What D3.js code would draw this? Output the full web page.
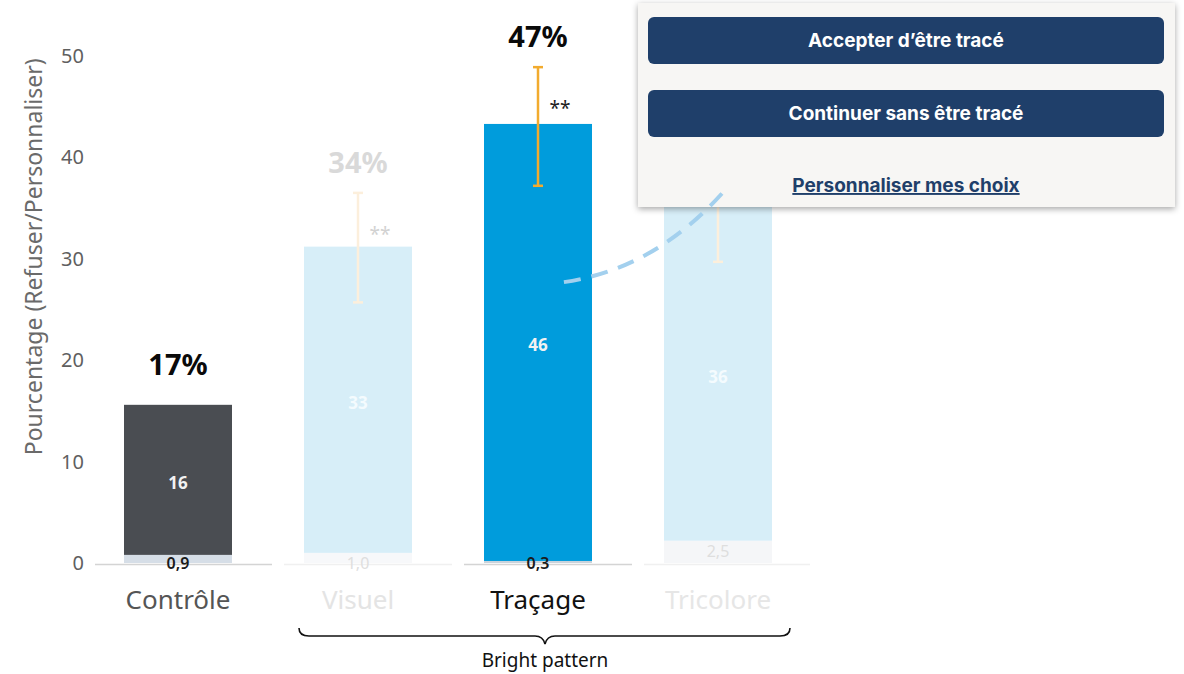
<!DOCTYPE html>
<html>
<head>
<meta charset="utf-8">
<script src="https://cdn.jsdelivr.net/npm/d3@7"></script>
<style>
  body { margin: 0; background: #fff; }
  svg { display: block; }
</style>
</head>
<body>
<svg id="chart" width="1184" height="674"></svg>
<script>
// categories and values
const categories = ["Contrôle", "Visuel", "Traçage", "Tricolore"];
const baseValues = [0.8, 1.0, 0.2, 2.2];        // small bottom segment
const topValues = [15.6, 31.2, 43.3, 38.5];     // top of the main bar
const baseLabels = ["0,9", "1,0", "0,3", "2,5"];
const mainLabels = ["16", "33", "46", "36"];
const mainLabelAt = [7.9, 15.8, 21.5, 18.3];    // value where the inner label sits
const totalLabels = ["17%", "34%", "47%", null];
const errLow = [null, 25.7, 37.2, 29.7];
const errHigh = [null, 36.5, 48.9, 42.0];
const stars = [null, "**", "**", null];
const yTicks = [0, 10, 20, 30, 40, 50];
const faded = [false, true, false, true];

const mainColors = ["#4a4d52", "#d7eef8", "#009cdc", "#d7eef8"];
const baseColors = ["#d6dee7", "#f7f8fa", "#c9d3dc", "#f5f6f8"];
const catColors = ["#555555", "#e4e4e4", "#111111", "#e6e6e6"];

const svg = d3.select("#chart");

// scales
const x = d3.scaleBand().domain(categories).range([88, 808]).paddingInner(0.4).paddingOuter(0.2);
const y = d3.scaleLinear().domain([0, 50]).range([563, 56]);
const bw = x.bandwidth();

const defs = svg.append("defs");
const shadow = defs.append("filter").attr("id", "shadow")
  .attr("x", "-5%").attr("y", "-10%").attr("width", "110%").attr("height", "125%");
shadow.append("feDropShadow").attr("dx", 0).attr("dy", 2).attr("stdDeviation", 3)
  .attr("flood-color", "#000").attr("flood-opacity", 0.35);

// y axis
const yAxis = svg.append("g")
  .attr("transform", "translate(84,0)")
  .call(d3.axisLeft(y).tickValues(yTicks).tickSize(0).tickPadding(0));
yAxis.select(".domain").remove();
yAxis.selectAll("text")
  .attr("font-family", "'Noto Sans', 'Open Sans', sans-serif")
  .attr("font-size", 20).attr("fill", "#5f5f5f");

svg.append("text")
  .attr("transform", "translate(42," + y(30.2) + ") rotate(-90)")
  .attr("text-anchor", "middle")
  .attr("font-family", "'Noto Sans', 'Open Sans', sans-serif")
  .attr("font-size", 23).attr("fill", "#6a6a6a")
  .text("Pourcentage (Refuser/Personnaliser)");

// baseline segments, one per category
svg.selectAll(".base-line").data(categories).join("line")
  .attr("x1", (d, i) => i === 0 ? 95 : x(d) - 20)
  .attr("x2", (d, i) => x(d) + bw + (i === 3 ? 38 : 40))
  .attr("y1", y(0) + 1.5).attr("y2", y(0) + 1.5)
  .attr("stroke", (d, i) => faded[i] ? "#f0f0f0" : "#d4d4d4")
  .attr("stroke-width", 1.5);

// bars: bottom segment + main segment
svg.selectAll(".bar-base").data(categories).join("rect")
  .attr("x", d => x(d)).attr("width", bw)
  .attr("y", (d, i) => y(baseValues[i]))
  .attr("height", (d, i) => y(0) - y(baseValues[i]))
  .attr("fill", (d, i) => baseColors[i]);

svg.selectAll(".bar-main").data(categories).join("rect")
  .attr("x", d => x(d)).attr("width", bw)
  .attr("y", (d, i) => y(topValues[i]))
  .attr("height", (d, i) => y(baseValues[i]) - y(topValues[i]))
  .attr("fill", (d, i) => mainColors[i]);

// labels inside bars
svg.selectAll(".lbl-main").data(categories).join("text")
  .attr("x", d => x(d) + bw / 2)
  .attr("y", (d, i) => y(mainLabelAt[i]) + 6)
  .attr("text-anchor", "middle")
  .attr("font-family", "'Noto Sans', 'Open Sans', sans-serif")
  .attr("font-weight", "bold").attr("font-size", 17)
  .attr("fill", (d, i) => faded[i] ? "#f4fbfe" : "#f2f2f2")
  .text((d, i) => mainLabels[i]);

svg.selectAll(".lbl-base").data(categories).join("text")
  .attr("x", d => x(d) + bw / 2)
  .attr("y", (d, i) => i === 3 ? y(1.2) + 6 : y(0) + 6)
  .attr("text-anchor", "middle")
  .attr("font-family", "'Noto Sans', 'Open Sans', sans-serif")
  .attr("font-size", 16)
  .attr("font-weight", (d, i) => faded[i] ? "normal" : "600")
  .attr("fill", (d, i) => faded[i] ? "#dedede" : "#1a1a1a")
  .text((d, i) => baseLabels[i]);

// category labels
svg.selectAll(".cat").data(categories).join("text")
  .attr("x", d => x(d) + bw / 2).attr("y", 609)
  .attr("text-anchor", "middle")
  .attr("font-family", "'Noto Sans', 'Open Sans', sans-serif")
  .attr("font-size", 26)
  .attr("fill", (d, i) => catColors[i])
  .text(d => d);

// error bars
const errData = categories.map((c, i) => ({c, i, lo: errLow[i], hi: errHigh[i]})).filter(d => d.lo !== null);
const err = svg.selectAll(".err").data(errData).join("g")
  .attr("stroke", d => faded[d.i] ? "#fcefdc" : "#f2ab2e")
  .attr("stroke-width", 2.5);
err.append("line")
  .attr("x1", d => x(d.c) + bw / 2).attr("x2", d => x(d.c) + bw / 2)
  .attr("y1", d => y(d.lo)).attr("y2", d => y(d.hi));
err.append("line")
  .attr("x1", d => x(d.c) + bw / 2 - 5).attr("x2", d => x(d.c) + bw / 2 + 5)
  .attr("y1", d => y(d.lo)).attr("y2", d => y(d.lo));
err.append("line")
  .attr("x1", d => x(d.c) + bw / 2 - 5).attr("x2", d => x(d.c) + bw / 2 + 5)
  .attr("y1", d => y(d.hi)).attr("y2", d => y(d.hi));

// significance stars
svg.selectAll(".star").data(errData.filter(d => stars[d.i])).join("text")
  .attr("x", d => x(d.c) + bw / 2 + 22)
  .attr("y", d => y(d.hi) + 48)
  .attr("text-anchor", "middle")
  .attr("font-family", "'Noto Sans', 'Open Sans', sans-serif")
  .attr("font-size", 19)
  .attr("fill", d => faded[d.i] ? "#d2d2d2" : "#222")
  .text(d => stars[d.i]);

// totals above bars
svg.selectAll(".total").data(categories.filter((c, i) => totalLabels[i])).join("text")
  .attr("x", d => x(d) + bw / 2)
  .attr("y", d => {
    const i = categories.indexOf(d);
    return y(errHigh[i] !== null ? errHigh[i] : topValues[i]) - (errHigh[i] !== null ? 20 : 30);
  })
  .attr("text-anchor", "middle")
  .attr("font-family", "'Noto Sans', 'Open Sans', sans-serif")
  .attr("font-weight", "bold").attr("font-size", 29)
  .attr("fill", d => faded[categories.indexOf(d)] ? "#d9d9d9" : "#0a0a0a")
  .text(d => totalLabels[categories.indexOf(d)]);

// brace under the "bright pattern" group
const bx0 = x("Visuel") - 5, bx1 = x("Tricolore") + bw + 18, bmid = x("Traçage") + bw / 2 + 7;
const by = 628;
const brace = d3.path();
brace.moveTo(bx0, by);
brace.quadraticCurveTo(bx0, by + 8, bx0 + 10, by + 8);
brace.lineTo(bmid - 10, by + 8);
brace.quadraticCurveTo(bmid - 2, by + 8, bmid, by + 16);
brace.quadraticCurveTo(bmid + 2, by + 8, bmid + 10, by + 8);
brace.lineTo(bx1 - 10, by + 8);
brace.quadraticCurveTo(bx1, by + 8, bx1, by);
svg.append("path").attr("d", brace.toString())
  .attr("fill", "none").attr("stroke", "#111").attr("stroke-width", 1.6);
svg.append("text")
  .attr("x", bmid).attr("y", 667)
  .attr("text-anchor", "middle")
  .attr("font-family", "'Noto Sans', 'Open Sans', sans-serif")
  .attr("font-size", 19).attr("fill", "#111")
  .text("Bright pattern");

// consent popup
const popupButtons = ["Accepter d’être tracé", "Continuer sans être tracé"];
const popup = svg.append("g");
popup.append("rect")
  .attr("x", 638).attr("y", 3).attr("width", 537).attr("height", 204)
  .attr("fill", "#f7f6f4").attr("filter", "url(#shadow)");
const btn = popup.selectAll(".btn").data(popupButtons).join("g")
  .attr("transform", (d, i) => "translate(648," + (17 + i * 73) + ")");
btn.append("rect")
  .attr("width", 516).attr("height", 47).attr("rx", 6)
  .attr("fill", "#1f3f6a");
btn.append("text")
  .attr("x", 258).attr("y", 30)
  .attr("text-anchor", "middle")
  .attr("font-family", "Inter, Roboto, sans-serif")
  .attr("font-weight", "bold").attr("font-size", 19)
  .attr("fill", "#fff")
  .text(d => d);
popup.append("text")
  .attr("x", 906).attr("y", 192)
  .attr("text-anchor", "middle")
  .attr("font-family", "Inter, Roboto, sans-serif")
  .attr("font-weight", "bold").attr("font-size", 19)
  .attr("fill", "#1f3f6a")
  .attr("text-decoration", "underline")
  .text("Personnaliser mes choix");

// dashed annotation curve (data coordinates)
const curveStart = {c: "Traçage", f: 0.74, v: 27.7};
const curveCtrl = {c: "Traçage", f: 1.58, v: 29.0};
const curveEnd = {c: "Tricolore", f: 0.55, v: 36.6};
const px = p => x(p.c) + p.f * bw;
const curve = d3.path();
curve.moveTo(px(curveStart), y(curveStart.v));
curve.quadraticCurveTo(px(curveCtrl), y(curveCtrl.v), px(curveEnd), y(curveEnd.v));
svg.append("path").attr("d", curve.toString())
  .attr("fill", "none").attr("stroke", "#a3d0ee")
  .attr("stroke-width", 4).attr("stroke-dasharray", "17,11");
</script>
</body>
</html>
